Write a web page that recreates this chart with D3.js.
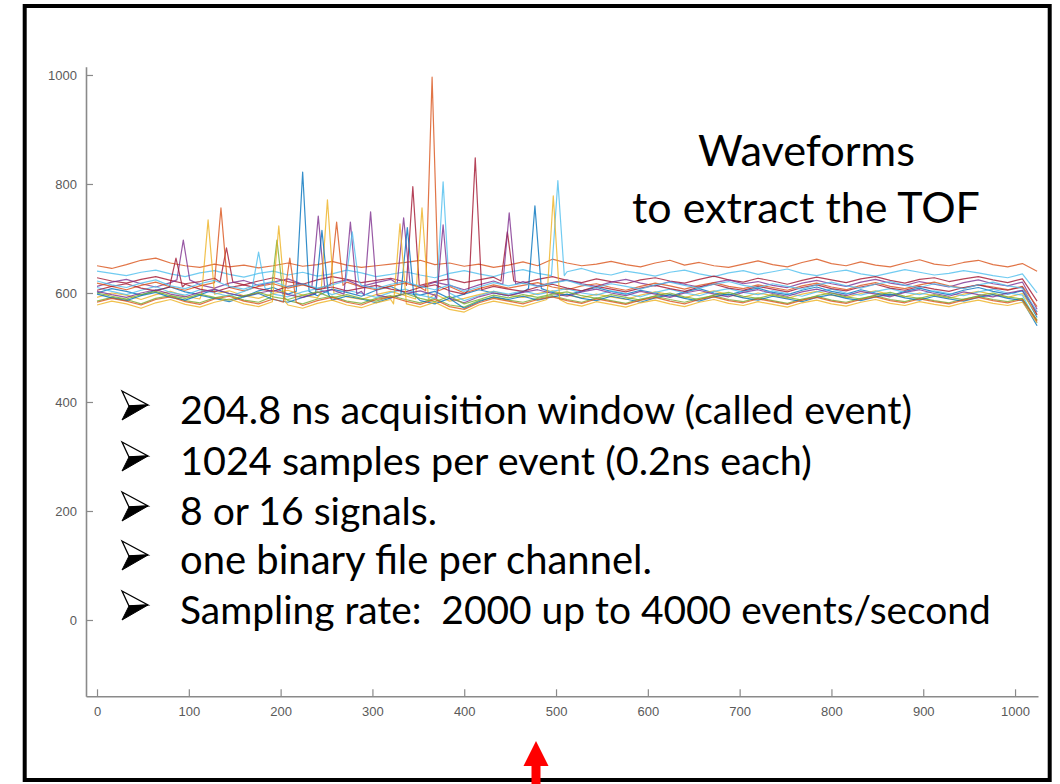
<!DOCTYPE html>
<html>
<head>
<meta charset="utf-8">
<script src="https://cdn.jsdelivr.net/npm/d3@7"></script>
<style>
  html, body { margin: 0; padding: 0; background: #fff; }
  svg { display: block; }
</style>
</head>
<body>
<svg id="chart" width="1060" height="784"></svg>
<script>
// waveforms — 16 channels, baseline read every 16 samples (0..1024)
const TRACE_COLORS = [
  "#D95319", "#4DBEEE", "#A2142F", "#7E2F8E", "#0072BD", "#D95319", "#EDB120", "#77AC30",
  "#4DBEEE", "#A2142F", "#0072BD", "#7E2F8E", "#EDB120", "#77AC30", "#D95319", "#4DBEEE"
];

const traces = [
  [650,645,652,660,664,655,650,647,653,648, 651,646,650,655,649,652,658,651,647,650, 653,656,660,652,655,649,653,647,651,657, 650,662,655,650,653,658,652,648,655,660, 651,656,650,647,653,659,652,648,656,662, 654,650,657,651,648,655,661,653,650,656, 660,652,648,654,640],
  [640,636,632,638,642,635,630,637,641,634, 629,636,640,633,638,631,635,642,637,630, 634,639,633,628,636,641,635,630,638,643, 636,632,639,645,637,633,640,636,631,638, 642,635,630,637,641,634,639,644,636,632, 638,642,635,631,637,643,638,633,636,641, 637,632,628,635,600],
  [628,622,618,625,630,623,617,621,627,620, 615,622,628,621,616,624,630,625,619,623, 627,620,614,621,626,619,624,629,622,618, 625,630,623,619,626,621,617,624,628,622, 618,625,631,624,620,627,622,616,623,629, 624,619,626,630,623,618,625,628,621,626, 630,624,619,626,585],
  [612,620,625,617,611,619,624,615,609,618, 623,614,620,626,616,610,618,624,612,619, 625,617,611,620,614,606,615,622,616,621, 613,619,624,617,612,620,625,618,613,621, 616,611,619,624,617,621,614,610,618,623, 617,612,620,625,618,614,621,616,611,619, 624,617,613,620,570],
  [600,608,603,596,605,611,602,597,606,599, 593,604,610,598,603,595,607,601,594,605, 612,600,596,603,590,598,606,600,595,602, 608,601,596,604,610,603,598,605,600,594, 602,608,600,596,604,609,601,597,605,611, 603,598,606,600,595,603,609,602,597,605, 610,603,598,604,555],
  [618,612,606,614,620,611,605,613,619,610, 604,612,617,609,615,608,614,620,611,606, 613,618,610,604,612,600,608,615,609,614, 619,611,606,613,617,610,605,612,618,613, 607,614,619,612,608,615,610,605,613,618, 611,606,614,619,612,608,615,620,613,609, 615,611,606,612,575],
  [592,600,596,588,597,603,594,589,598,604, 595,590,599,605,596,591,600,593,588,597, 603,595,589,598,585,590,597,603,596,592, 599,604,596,591,598,593,588,596,602,597, 591,599,604,597,592,600,595,590,598,603, 596,592,599,604,597,593,600,595,590,598, 603,597,592,599,560],
  [585,592,588,580,590,595,586,582,591,596, 587,583,592,586,580,589,594,585,581,590, 595,588,582,590,578,574,586,592,587,583, 590,595,588,583,591,586,581,589,594,588, 583,590,595,588,584,591,586,581,589,594, 587,583,590,595,588,584,591,586,582,589, 594,588,584,590,550],
  [610,603,597,605,612,601,596,606,600,594, 603,609,598,593,602,608,597,605,599,592, 601,607,596,590,600,586,595,603,598,604, 597,603,608,600,596,604,599,593,601,607, 600,595,603,608,601,597,604,599,594,602, 607,600,596,603,608,601,597,604,599,595, 602,607,600,596,545],
  [605,612,617,609,604,611,616,607,602,610, 615,608,603,612,617,606,611,604,609,614, 607,602,610,615,604,598,606,612,607,603, 611,616,609,604,612,607,602,609,614,608, 603,611,616,609,605,612,607,602,610,615, 608,604,611,616,609,605,612,607,603,610, 615,609,605,611,560],
  [598,591,586,595,601,592,587,596,590,584, 593,599,588,583,592,598,587,594,589,582, 591,597,586,580,590,572,584,593,588,594, 587,593,598,590,586,594,589,583,591,597, 590,585,593,598,591,587,594,589,584,592, 597,590,586,593,598,591,587,594,589,585, 592,597,590,586,540],
  [603,597,592,600,606,598,593,601,607,599, 594,600,605,597,592,601,606,598,603,596, 591,599,604,596,590,582,593,600,595,601, 606,599,594,602,607,600,595,603,598,592, 600,605,598,593,601,606,599,594,602,607, 600,595,603,598,593,601,606,599,594,602, 597,593,600,605,565],
  [578,585,580,572,582,588,579,574,583,589, 580,575,584,578,572,581,587,578,573,582, 588,580,574,583,570,565,578,585,580,575, 583,588,581,576,584,579,574,582,587,580, 575,583,588,581,577,584,579,574,582,587, 580,576,583,588,581,577,584,579,575,582, 587,581,577,583,545],
  [600,594,589,597,603,595,590,598,592,587, 595,601,593,588,596,602,591,597,590,585, 593,599,590,584,594,580,588,596,591,597, 592,598,602,595,590,597,592,587,595,600, 593,588,596,601,594,590,597,592,587,595, 600,593,589,596,601,594,590,597,592,588, 595,600,593,589,550],
  [583,590,585,578,588,593,584,579,589,594, 585,580,589,583,577,586,592,583,578,588, 593,585,579,588,575,570,582,590,585,580, 588,593,586,581,589,584,579,587,592,585, 580,588,593,586,582,589,584,579,587,592, 585,581,588,593,586,582,589,584,580,587, 592,586,582,588,548],
  [622,615,610,618,624,613,608,617,623,612, 607,616,621,611,617,609,615,622,614,608, 616,621,612,606,615,603,611,619,613,618, 612,618,623,615,610,617,612,607,615,620, 614,609,616,621,614,610,617,612,607,615, 620,613,609,616,621,614,610,617,612,608, 615,620,613,609,565]
];

// pulses: [trace, sample, peak value]
const peaks = [
  [9, 86, 664], [3, 94, 697], [6, 121, 734], [5, 135, 756], [2, 141, 683],
  [8, 176, 675], [7, 196, 697], [12, 198, 723], [14, 210, 664], [4, 224, 822],
  [3, 241, 741], [10, 245, 715], [6, 251, 771], [5, 261, 730], [11, 276, 730],
  [15, 278, 712], [11, 298, 749], [12, 330, 727], [3, 334, 738], [10, 338, 720],
  [2, 344, 795], [6, 354, 756], [5, 365, 996], [8, 377, 804], [11, 377, 725],
  [9, 412, 848], [2, 447, 712], [3, 449, 747], [4, 477, 760], [12, 497, 778],
  [1, 502, 806]
];

const xTicks = [0, 100, 200, 300, 400, 500, 600, 700, 800, 900, 1000];
const yTicks = [0, 200, 400, 600, 800, 1000];

const titleLines = ["Waveforms", "to extract the TOF"];
const bulletLines = [
  "204.8 ns acquisition window (called event)",
  "1024 samples per event (0.2ns each)",
  "8 or 16 signals.",
  "one binary file per channel.",
  "Sampling rate:\u00a0\u00a02000 up to 4000 events/second"
];

const N_SAMPLES = 1024;
const HALF = 7; // pulse half-width, samples

const svg = d3.select("#chart");

const x = d3.scaleLinear().domain([-12, 1025]).range([86, 1038]);
const y = d3.scaleLinear().domain([-140, 1015]).range([696.3, 66.8]);

// build point lists: baseline + pulse triangles
const series = traces.map((vals, ti) => {
  const step = N_SAMPLES / (vals.length - 1);
  const mine = peaks.filter(p => p[0] === ti);
  const pts = vals.map((v, i) => [i * step, v])
    .filter(pt => !mine.some(p => Math.abs(pt[0] - p[1]) < HALF));
  mine.forEach(p => {
    const base = vals[Math.round(p[1] / step)];
    pts.push([p[1] - HALF, base], [p[1], p[2]], [p[1] + HALF, base]);
  });
  return pts.sort((a, b) => a[0] - b[0]);
});

const line = d3.line().x(d => x(d[0])).y(d => y(d[1]));

svg.append("g").selectAll("path")
  .data(series).enter().append("path")
  .attr("d", line)
  .attr("fill", "none")
  .attr("stroke", (d, i) => TRACE_COLORS[i])
  .attr("stroke-width", 1.2)
  .attr("stroke-opacity", 0.8)
  .attr("stroke-linejoin", "round");

// axes
const axisColor = "#8a8a8a";
const gx = svg.append("g").attr("transform", `translate(0,${y(-140)})`)
  .call(d3.axisBottom(x).tickValues(xTicks).tickFormat(d3.format("d"))
    .tickSizeInner(-7).tickSizeOuter(0).tickPadding(10));
const gy = svg.append("g").attr("transform", `translate(${x(-12)},0)`)
  .call(d3.axisLeft(y).tickValues(yTicks).tickFormat(d3.format("d"))
    .tickSizeInner(-7).tickSizeOuter(0).tickPadding(9));

[gx, gy].forEach(g => {
  g.select(".domain").attr("stroke", axisColor).attr("stroke-width", 1.6);
  g.selectAll(".tick line").attr("stroke", axisColor).attr("stroke-width", 1.2);
  g.selectAll(".tick text").attr("fill", "#5a5a5a")
    .style("font-family", "'Liberation Sans', Arial, sans-serif").style("font-size", "13px");
});

// fit a text element to a target width
function fitText(sel, width, start) {
  sel.style("font-size", start + "px");
  const w = sel.node().getComputedTextLength();
  sel.style("font-size", (start * width / w).toFixed(2) + "px");
}

const textFont = "Lato, 'Open Sans', sans-serif";

const titleSpec = [[698, 166, 217], [632, 223, 348]];
titleLines.forEach((t, i) => {
  const s = titleSpec[i];
  const el = svg.append("text").attr("x", s[0]).attr("y", s[1])
    .attr("fill", "#000").style("font-family", textFont).text(t);
  fitText(el, s[2], 36);
});

const bulletBase = [424, 475, 525, 574, 624];
const bulletWidth = [732, 632, 257, 472, 811];
bulletLines.forEach((t, i) => {
  const by = bulletBase[i];
  const cy = by - 19, cx = 135;
  svg.append("path")
    .attr("d", `M${cx - 13},${cy - 14}L${cx + 13},${cy}L${cx - 6},${cy + 1}Z`)
    .attr("fill", "#fff").attr("stroke", "#000").attr("stroke-width", 1.3).attr("stroke-linejoin", "miter");
  svg.append("path")
    .attr("d", `M${cx - 6},${cy + 1}L${cx + 13},${cy}L${cx - 13},${cy + 15}Z`)
    .attr("fill", "#000").attr("stroke", "#000").attr("stroke-width", 1);
  const el = svg.append("text").attr("x", 180).attr("y", by)
    .attr("fill", "#000").style("font-family", textFont).text(t);
  fitText(el, bulletWidth[i], 31);
});

// frame
svg.append("rect")
  .attr("x", 24.7).attr("y", 6).attr("width", 1025).attr("height", 774)
  .attr("fill", "none").attr("stroke", "#000").attr("stroke-width", 4);

// red arrow
svg.append("path")
  .attr("d", "M536,741L548.5,766L540.5,766L540.5,784L531.5,784L531.5,766L523.5,766Z")
  .attr("fill", "#ff0000");
</script>
</body>
</html>
